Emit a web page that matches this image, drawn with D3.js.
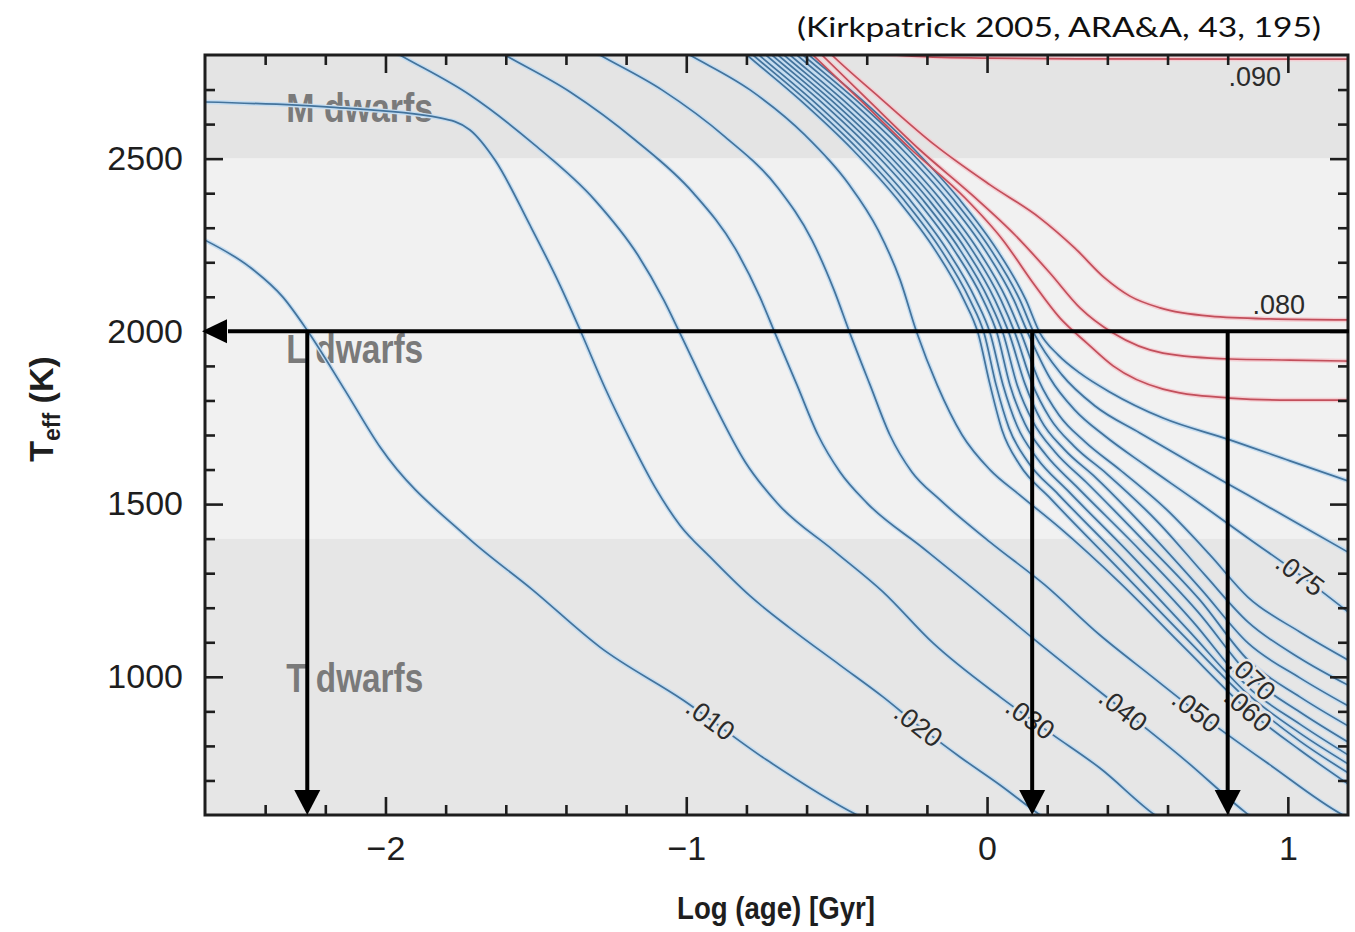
<!DOCTYPE html>
<html>
<head>
<meta charset="utf-8">
<title>Effective temperature versus age for low-mass stars and brown dwarfs</title>
<script src="https://cdn.jsdelivr.net/npm/d3@7/dist/d3.min.js"></script>
<style>
  html, body { margin: 0; padding: 0; background: #ffffff; }
  svg { display: block; }
</style>
</head>
<body>
<svg id="chart" width="1355" height="932"></svg>
<script>
// ---------------------------------------------------------------------
// Data
// ---------------------------------------------------------------------
const xMajorTicks = [-2, -1, 0, 1];
const xTickLabels = ["\u22122", "\u22121", "0", "1"];
const yMajorTicks = [1000, 1500, 2000, 2500];
const yTickLabels = ["1000", "1500", "2000", "2500"];

// spectral-class bands in Teff
const bandNames = ["M dwarfs", "L dwarfs", "T dwarfs"];
const bandTeffMin = [2500, 1400, 600];
const bandTeffMax = [2800, 2500, 1400];
const bandLabelAge = [-2.33, -2.33, -2.33];
const bandLabelTeff = [2606, 1908, 956];

// evolutionary tracks: [log age (Gyr), Teff (K)]
const track010 = [[-2.60,2264],[-2.451,2186],[-2.341,2099],[-2.261,2004],[-2.135,1830],[-2.018,1665],[-1.729,1405],[-1.510,1251],[-1.287,1086],[-1.011,933],[-0.732,759],[-0.432,600],[-0.38,578]];
const track020 = [[-2.60,2664],[-2.184,2649],[-1.819,2618],[-1.719,2583],[-1.636,2496],[-1.520,2308],[-1.420,2134],[-1.353,2004],[-1.270,1836],[-1.187,1686],[-1.104,1549],[-1.021,1439],[-0.921,1347],[-0.788,1234],[-0.655,1141],[-0.489,1034],[-0.346,942],[-0.223,855],[-0.090,768],[0.043,687],[0.176,600],[0.209,580]];
const track030 = [[-2.01,2829],[-1.952,2800],[-1.719,2684],[-1.503,2539],[-1.304,2380],[-1.161,2221],[-1.075,2091],[-1.021,1995],[-0.914,1801],[-0.804,1622],[-0.698,1503],[-0.512,1367],[-0.346,1246],[-0.180,1098],[0.043,942],[0.219,832],[0.375,736],[0.558,600],[0.591,580]];
const track040 = [[-1.661,2829],[-1.603,2800],[-1.386,2693],[-1.170,2554],[-0.977,2401],[-0.838,2241],[-0.755,2099],[-0.705,1995],[-0.632,1845],[-0.562,1700],[-0.489,1593],[-0.399,1503],[-0.213,1373],[-0.040,1251],[0.159,1107],[0.325,991],[0.452,904],[0.658,759],[0.857,609],[0.891,586]];
const track050 = [[-1.345,2829],[-1.287,2800],[-1.081,2699],[-0.871,2563],[-0.695,2415],[-0.582,2264],[-0.509,2120],[-0.456,1995],[-0.389,1845],[-0.323,1700],[-0.250,1593],[-0.156,1512],[0.010,1390],[0.192,1266],[0.375,1121],[0.542,1005],[0.698,898],[0.941,745],[1.183,600],[1.22,583]];
const track060 = [[-1.046,2829],[-0.988,2800],[-0.788,2699],[-0.605,2568],[-0.462,2429],[-0.362,2293],[-0.289,2149],[-0.233,1995],[-0.166,1845],[-0.083,1700],[0.010,1599],[0.109,1526],[0.242,1431],[0.442,1272],[0.658,1083],[0.867,904],[1.040,788],[1.200,690]];
const track064 = [[-0.855,2843],[-0.798,2800],[-0.622,2670],[-0.446,2525],[-0.296,2380],[-0.173,2236],[-0.077,2091],[-0.030,1995],[0.010,1845],[0.050,1714],[0.109,1613],[0.209,1518],[0.442,1309],[0.658,1115],[0.867,933],[1.040,814],[1.200,722]];
const track066 = [[-0.835,2843],[-0.778,2800],[-0.602,2670],[-0.426,2525],[-0.276,2380],[-0.153,2236],[-0.057,2091],[-0.010,1995],[0.030,1845],[0.073,1720],[0.136,1622],[0.236,1529],[0.459,1330],[0.668,1136],[0.867,950],[1.040,837],[1.200,748]];
const track068 = [[-0.815,2843],[-0.758,2800],[-0.582,2670],[-0.406,2525],[-0.256,2380],[-0.133,2236],[-0.037,2091],[0.010,1995],[0.053,1845],[0.100,1726],[0.166,1633],[0.266,1541],[0.482,1350],[0.685,1159],[0.867,971],[1.040,863],[1.200,774]];
const track070 = [[-0.792,2843],[-0.735,2800],[-0.559,2670],[-0.383,2525],[-0.233,2380],[-0.110,2236],[-0.013,2091],[0.033,1995],[0.076,1845],[0.126,1732],[0.196,1642],[0.296,1552],[0.508,1367],[0.701,1188],[0.881,997],[1.040,898],[1.200,811]];
const track071 = [[-0.772,2843],[-0.715,2800],[-0.539,2670],[-0.363,2525],[-0.213,2380],[-0.090,2236],[0.006,2091],[0.053,1995],[0.100,1845],[0.153,1738],[0.226,1651],[0.329,1564],[0.525,1390],[0.708,1222],[0.867,1049],[1.040,942],[1.200,858]];
const track072 = [[-0.752,2843],[-0.695,2800],[-0.519,2670],[-0.343,2525],[-0.193,2380],[-0.070,2236],[0.026,2091],[0.073,1995],[0.126,1848],[0.179,1743],[0.256,1659],[0.362,1576],[0.542,1416],[0.714,1251],[0.867,1098],[1.040,997],[1.200,916]];
const track073 = [[-0.732,2843],[-0.675,2800],[-0.499,2670],[-0.323,2525],[-0.173,2380],[-0.050,2236],[0.046,2091],[0.093,1995],[0.149,1851],[0.209,1749],[0.289,1668],[0.399,1587],[0.568,1448],[0.724,1295],[0.867,1159],[1.040,1054],[1.200,976]];
const track074 = [[-0.712,2843],[-0.655,2800],[-0.479,2670],[-0.303,2525],[-0.153,2380],[-0.030,2236],[0.066,2091],[0.113,1995],[0.173,1856],[0.239,1758],[0.326,1680],[0.442,1599],[0.598,1483],[0.741,1353],[0.867,1231],[1.040,1130],[1.200,1049]];
const track075 = [[-0.689,2843],[-0.632,2800],[-0.456,2670],[-0.280,2525],[-0.130,2380],[-0.007,2236],[0.089,2091],[0.136,1995],[0.209,1865],[0.292,1772],[0.392,1697],[0.525,1613],[0.691,1512],[0.867,1402],[1.040,1295],[1.200,1188]];
const track076 = [[-0.669,2843],[-0.612,2800],[-0.436,2670],[-0.260,2525],[-0.110,2380],[0.013,2236],[0.109,2091],[0.156,1995],[0.249,1874],[0.359,1784],[0.508,1706],[0.691,1613],[0.867,1526],[1.040,1440],[1.200,1361]];
const track077 = [[-0.649,2843],[-0.592,2800],[-0.416,2670],[-0.240,2525],[-0.090,2380],[0.033,2236],[0.129,2091],[0.176,1995],[0.236,1932],[0.309,1879],[0.409,1824],[0.585,1749],[0.807,1686],[1.007,1625],[1.200,1567]];
const track078 = [[-0.629,2843],[-0.579,2800],[-0.422,2670],[-0.250,2525],[-0.073,2386],[0.053,2264],[0.153,2140],[0.242,2039],[0.332,1966],[0.419,1900],[0.585,1833],[0.807,1807],[1.007,1801],[1.200,1801]];
const track079 = [[-0.599,2843],[-0.549,2800],[-0.396,2670],[-0.223,2525],[-0.050,2395],[0.093,2279],[0.209,2169],[0.309,2068],[0.419,1995],[0.585,1937],[0.807,1920],[1.007,1917],[1.200,1914]];
const track080 = [[-0.566,2843],[-0.516,2800],[-0.356,2676],[-0.173,2539],[0.010,2424],[0.176,2328],[0.292,2241],[0.392,2154],[0.475,2102],[0.575,2068],[0.741,2044],[0.941,2036],[1.200,2033]];
const track090 = [[-0.62,2840],[-0.45,2812],[-0.25,2797],[0.0,2791],[0.3,2789],[1.2,2788]];

const trackMasses = [".010",".020",".030",".040",".050",".060",".064",".066",".068",".070",".071",".072",".073",".074",".075",".076",".077",".078",".079",".080",".090"];
const trackValues = [track010,track020,track030,track040,track050,track060,track064,track066,track068,track070,track071,track072,track073,track074,track075,track076,track077,track078,track079,track080,track090];
// hydrogen-burning stars (true) versus brown dwarfs (false)
const trackIsStar = [false,false,false,false,false,false,false,false,false,false,false,false,false,false,false,false,false,true,true,true,true];

// mass labels and the log age at which each sits on its track
const labelMasses = [".010",".020",".030",".040",".050",".060",".070",".075",".080",".090"];
const labelAges   = [-0.92, -0.229, 0.143, 0.452, 0.695, 0.867, 0.881, 1.040, 0.97, 0.89];

// reading-off arrows at Teff = 2000 K
const arrowAges = [-2.26, 0.15, 0.80];
const arrowTeff = 2000;

// ---------------------------------------------------------------------
// Layout
// ---------------------------------------------------------------------
const svg = d3.select("#chart");
const P = { left: 205, right: 1348, top: 55, bottom: 815 };
const x = d3.scaleLinear().domain([-2.6, 1.2]).range([P.left, P.right]);
const y = d3.scaleLinear().domain([600, 2800]).range([P.bottom, P.top]);

const bandFill = ["#e4e4e4", "#f1f1f1", "#e6e6e6"];
const axisColor = "#1e1e1e";
const sans = "'Liberation Sans', Arial, Helvetica, sans-serif";

svg.append("defs").append("clipPath").attr("id", "plotClip")
  .append("rect")
  .attr("x", P.left).attr("y", P.top)
  .attr("width", P.right - P.left).attr("height", P.bottom - P.top);

const gPlot = svg.append("g").attr("clip-path", "url(#plotClip)");

// background bands
gPlot.selectAll("rect.band").data(bandNames).join("rect")
  .attr("class", "band")
  .attr("x", P.left).attr("width", P.right - P.left)
  .attr("y", (d, i) => y(bandTeffMax[i]))
  .attr("height", (d, i) => y(bandTeffMin[i]) - y(bandTeffMax[i]))
  .attr("fill", (d, i) => bandFill[i]);

// band names
gPlot.selectAll("text.bandname").data(bandNames).join("text")
  .attr("class", "bandname")
  .attr("x", (d, i) => x(bandLabelAge[i]))
  .attr("y", (d, i) => y(bandLabelTeff[i]))
  .attr("font-family", sans).attr("font-weight", "bold").attr("font-size", 41)
  .attr("textLength", (d, i) => i === 0 ? 147 : 137)
  .attr("lengthAdjust", "spacingAndGlyphs")
  .attr("fill", "#7a7a7a")
  .text(d => d);

// tracks
const line = d3.line().x(d => x(d[0])).y(d => y(d[1])).curve(d3.curveMonotoneX);
const halo = gPlot.append("g").attr("fill", "none");
const core = gPlot.append("g").attr("fill", "none");
halo.selectAll("path").data(trackValues).join("path")
  .attr("d", line)
  .attr("stroke", (d, i) => trackIsStar[i] ? "#f4cdd2" : "#c4dcf0")
  .attr("stroke-width", 4.5)
  .attr("stroke-linejoin", "round");
const corePaths = core.selectAll("path").data(trackValues).join("path")
  .attr("d", line)
  .attr("stroke", (d, i) => trackIsStar[i] ? "#c24f5b" : "#43739c")
  .attr("stroke-width", 1.7)
  .attr("stroke-linejoin", "round");

// mass labels placed on their tracks
function pointAtX(node, px) {
  let lo = 0, hi = node.getTotalLength();
  for (let k = 0; k < 40; k++) {
    const mid = (lo + hi) / 2;
    if (node.getPointAtLength(mid).x < px) lo = mid; else hi = mid;
  }
  return (lo + hi) / 2;
}
function bandColorAt(py) {
  const t = y.invert(py);
  for (let i = 0; i < bandNames.length; i++) {
    if (t >= bandTeffMin[i] && t <= bandTeffMax[i]) return bandFill[i];
  }
  return bandFill[1];
}
const labelShift = { ".080": -14, ".090": 18 };
const gLabels = gPlot.append("g");
labelMasses.forEach((m, j) => {
  const node = corePaths.nodes()[trackMasses.indexOf(m)];
  const len = pointAtX(node, x(labelAges[j]));
  const p = node.getPointAtLength(len);
  const a = node.getPointAtLength(Math.max(0, len - 5));
  const b = node.getPointAtLength(len + 5);
  const shift = labelShift[m] || 0;
  const ang = shift ? 0 : Math.atan2(b.y - a.y, b.x - a.x) * 180 / Math.PI;
  gLabels.append("text")
    .attr("transform", `translate(${p.x},${p.y + shift}) rotate(${ang})`)
    .attr("text-anchor", "middle")
    .attr("dominant-baseline", "central")
    .attr("font-family", sans).attr("font-size", 27)
    .attr("fill", "#2b2b2b")
    .attr("stroke", shift ? "none" : bandColorAt(p.y))
    .attr("stroke-width", 5)
    .attr("paint-order", "stroke")
    .text(m);
});

// ---------------------------------------------------------------------
// Axes (ticks point inward on all four sides)
// ---------------------------------------------------------------------
const xMinor = d3.range(-12, 6).map(k => +(k * 0.2).toFixed(1)).filter(v => !Number.isInteger(v));
const yMinor = d3.range(7, 28).map(k => k * 100).filter(v => v % 500 !== 0);

function styleAxis(g) {
  g.select(".domain").remove();
  g.selectAll(".tick line").attr("stroke", axisColor).attr("stroke-width", 2.6);
  g.selectAll(".tick text").attr("fill", axisColor).attr("font-family", sans).attr("font-size", 34);
}

svg.append("g").attr("transform", `translate(0,${P.bottom})`)
  .call(d3.axisBottom(x).tickValues(xMajorTicks)
    .tickFormat(d => xTickLabels[xMajorTicks.indexOf(d)])
    .tickSize(-18).tickPadding(21))
  .call(styleAxis);
svg.append("g").attr("transform", `translate(0,${P.bottom})`)
  .call(d3.axisBottom(x).tickValues(xMinor).tickFormat("").tickSize(-10))
  .call(styleAxis);
svg.append("g").attr("transform", `translate(0,${P.top})`)
  .call(d3.axisTop(x).tickValues(xMajorTicks).tickFormat("").tickSize(-18))
  .call(styleAxis);
svg.append("g").attr("transform", `translate(0,${P.top})`)
  .call(d3.axisTop(x).tickValues(xMinor).tickFormat("").tickSize(-10))
  .call(styleAxis);

svg.append("g").attr("transform", `translate(${P.left},0)`)
  .call(d3.axisLeft(y).tickValues(yMajorTicks)
    .tickFormat(d => yTickLabels[yMajorTicks.indexOf(d)])
    .tickSize(-18).tickPadding(22))
  .call(styleAxis);
svg.append("g").attr("transform", `translate(${P.left},0)`)
  .call(d3.axisLeft(y).tickValues(yMinor).tickFormat("").tickSize(-10))
  .call(styleAxis);
svg.append("g").attr("transform", `translate(${P.right},0)`)
  .call(d3.axisRight(y).tickValues(yMajorTicks).tickFormat("").tickSize(-18))
  .call(styleAxis);
svg.append("g").attr("transform", `translate(${P.right},0)`)
  .call(d3.axisRight(y).tickValues(yMinor).tickFormat("").tickSize(-10))
  .call(styleAxis);

// frame
svg.append("rect")
  .attr("x", P.left).attr("y", P.top)
  .attr("width", P.right - P.left).attr("height", P.bottom - P.top)
  .attr("fill", "none").attr("stroke", axisColor).attr("stroke-width", 3);

// axis titles
svg.append("text")
  .attr("x", 776).attr("y", 919)
  .attr("text-anchor", "middle")
  .attr("font-family", sans).attr("font-weight", "bold").attr("font-size", 32)
  .attr("textLength", 198).attr("lengthAdjust", "spacingAndGlyphs")
  .attr("fill", axisColor)
  .text("Log (age) [Gyr]");

const yTitle = svg.append("text")
  .attr("transform", "translate(53,409) rotate(-90)")
  .attr("text-anchor", "middle")
  .attr("font-family", sans).attr("font-weight", "bold").attr("font-size", 34)
  .attr("fill", axisColor);
yTitle.append("tspan").text("T");
yTitle.append("tspan").attr("font-size", 23).attr("dy", 7).text("eff");
yTitle.append("tspan").attr("dy", -7).text(" (K)");

// source note
svg.append("text")
  .attr("x", 797).attr("y", 37)
  .attr("font-family", "Lato, 'Open Sans', sans-serif").attr("font-size", 26)
  .attr("textLength", 524).attr("lengthAdjust", "spacingAndGlyphs")
  .attr("fill", "#111")
  .text("(Kirkpatrick 2005, ARA&A, 43, 195)");

// ---------------------------------------------------------------------
// Arrows at Teff = 2000 K
// ---------------------------------------------------------------------
const gArrow = svg.append("g").attr("fill", "#000").attr("stroke", "#000");
const yA = y(arrowTeff);
const headLen = 25, headHalf = 13;
gArrow.append("line")
  .attr("x1", x(1.2) + 1).attr("x2", x(-2.6) + headLen - 2)
  .attr("y1", yA).attr("y2", yA)
  .attr("stroke-width", 4);
gArrow.append("path")
  .attr("stroke", "none")
  .attr("d", `M${x(-2.6) - 3},${yA} L${x(-2.6) - 3 + headLen},${yA - headHalf + 1} L${x(-2.6) - 3 + headLen},${yA + headHalf - 1} Z`);
arrowAges.forEach(a => {
  const ax = x(a);
  gArrow.append("line")
    .attr("x1", ax).attr("x2", ax)
    .attr("y1", yA).attr("y2", P.bottom - headLen + 2)
    .attr("stroke-width", 4);
  gArrow.append("path")
    .attr("stroke", "none")
    .attr("d", `M${ax},${P.bottom} L${ax - headHalf},${P.bottom - headLen} L${ax + headHalf},${P.bottom - headLen} Z`);
});
</script>
</body>
</html>
